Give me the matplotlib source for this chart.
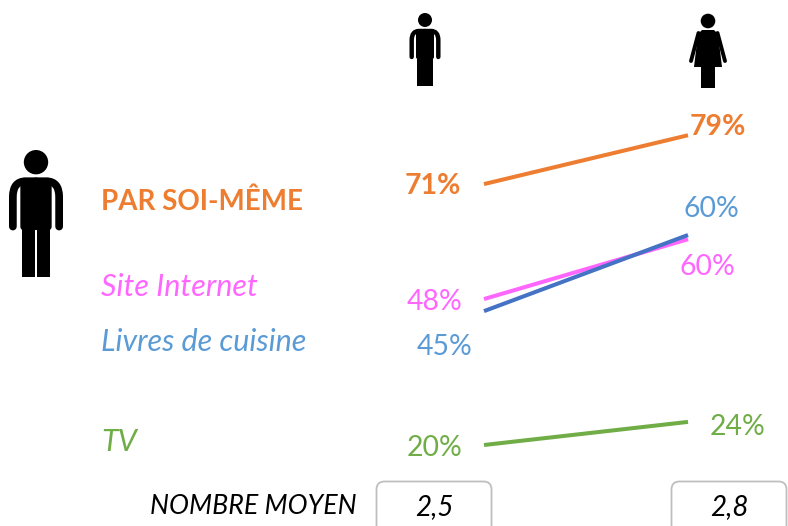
#!/usr/bin/env python3
# -*- coding: utf-8 -*-
import matplotlib
matplotlib.use('Agg')
import matplotlib.pyplot as plt
from matplotlib.patches import Circle, FancyBboxPatch, PathPatch, Polygon, Rectangle
from matplotlib.path import Path

plt.rcParams['font.family'] = ['Lato', 'DejaVu Sans']

ORANGE = '#ED7D31'
PINK = '#FF66FF'
BLUE = '#5B9BD5'
DARKBLUE = '#4472C4'
GREEN = '#70AD47'

# values as they are placed on the slope chart (men, women)
soi_meme = [69.7, 79]
site_internet = [47.8, 59.2]
livres = [45.5, 60]
tv = [20, 24.4]

labels_soi_meme = ['71%', '79%']
labels_site = ['48%', '60%']
labels_livres = ['45%', '60%']
labels_tv = ['20%', '24%']
nombre_moyen = ['2,5', '2,8']

fig = plt.figure(figsize=(7.88, 5.26), dpi=100)

# slope lines: x 0 -> 1 sits between px 484 and 688
ax = fig.add_axes([0, 0, 1, 1])
ax.set_xlim(-484 / 204, (788 - 484) / 204)
ax.set_ylim(20 - 81 / 5.25, 20 + 445 / 5.25)
ax.axis('off')
for vals, col in [(soi_meme, ORANGE), (site_internet, PINK), (livres, DARKBLUE), (tv, GREEN)]:
    ax.plot([0, 1], vals, color=col, lw=2.9, solid_capstyle='butt')

# second layer in pixels for text and pictograms
px = fig.add_axes([0, 0, 1, 1])
px.set_xlim(0, 788)
px.set_ylim(526, 0)
px.axis('off')
px.patch.set_alpha(0)


def man(cx, top, s):
    px.add_patch(Circle((cx, top + 7 * s), 7 * s, color='black', lw=0))
    px.add_patch(FancyBboxPatch((cx - 9 * s, top + 16 * s), 18 * s, 30 * s,
                                boxstyle='round,pad=0,rounding_size=%f' % (2 * s),
                                color='black', lw=0))
    px.add_patch(Rectangle((cx - 8 * s, top + 40 * s), 7.6 * s, 33 * s, color='black', lw=0))
    px.add_patch(Rectangle((cx + 0.4 * s, top + 40 * s), 7.6 * s, 33 * s, color='black', lw=0))
    for d in (-1, 1):
        arm = Path([(cx, top + 18 * s), (cx + d * 6 * s, top + 18 * s),
                    (cx + d * 13.3 * s, top + 18 * s), (cx + d * 13.3 * s, top + 27 * s),
                    (cx + d * 13.3 * s, top + 44 * s)],
                   [Path.MOVETO, Path.LINETO, Path.CURVE3, Path.CURVE3, Path.LINETO])
        px.add_patch(PathPatch(arm, facecolor='none', edgecolor='black', lw=3.2 * s,
                               capstyle='round', joinstyle='round'))


def woman(cx, top):
    px.add_patch(Circle((cx, top + 7), 7.3, color='black', lw=0))
    px.add_patch(Polygon([(cx - 6, top + 16), (cx + 6, top + 16), (cx + 10, top + 20),
                          (cx + 14, top + 53), (cx - 14, top + 53), (cx - 10, top + 20)],
                         color='black', lw=0))
    px.add_patch(Rectangle((cx - 7, top + 50), 6.6, 24, color='black', lw=0))
    px.add_patch(Rectangle((cx + 0.4, top + 50), 6.6, 24, color='black', lw=0))
    for d in (-1, 1):
        px.plot([cx + d * 9.5, cx + d * 17], [top + 19, top + 47], color='black', lw=2.8,
                solid_capstyle='round')


man(425, 13, 1.0)
woman(708, 14)
man(36, 150, 1.74)

fs = 20.4
px.text(101, 202, 'PAR SOI-MÊME', color=ORANGE, fontsize=20, fontweight='bold', va='center')
px.text(101, 287, 'Site Internet', color=PINK, fontsize=22, style='italic', va='center')
px.text(101, 342, 'Livres de cuisine', color=BLUE, fontsize=22, style='italic', va='center')
px.text(101, 442, 'TV', color=GREEN, fontsize=22, style='italic', va='center')

px.text(433, 186, labels_soi_meme[0], color=ORANGE, fontsize=fs, fontweight='bold', ha='center', va='center')
px.text(718, 127, labels_soi_meme[1], color=ORANGE, fontsize=fs, fontweight='bold', ha='center', va='center')
px.text(435, 302, labels_site[0], color=PINK, fontsize=fs, ha='center', va='center')
px.text(707, 267, labels_site[1], color=PINK, fontsize=fs, ha='center', va='center')
px.text(445, 347, labels_livres[0], color=BLUE, fontsize=fs, ha='center', va='center')
px.text(711, 209, labels_livres[1], color=BLUE, fontsize=fs, ha='center', va='center')
px.text(435, 448, labels_tv[0], color=GREEN, fontsize=fs, ha='center', va='center')
px.text(738, 427, labels_tv[1], color=GREEN, fontsize=fs, ha='center', va='center')

# boxes run off the bottom edge
px.text(357, 506, 'NOMBRE MOYEN', color='black', fontsize=19.3, style='italic', ha='right', va='center')
for left, val in zip([376.5, 671.5], nombre_moyen):
    px.add_patch(FancyBboxPatch((left, 481.5), 115, 60, boxstyle='round,pad=0,rounding_size=8',
                                facecolor='white', edgecolor='#BFBFBF', lw=1.3))
    px.text(left + 57.5, 507, val, color='black', fontsize=20, style='italic', ha='center', va='center')

fig.savefig('out.png', dpi=100)
